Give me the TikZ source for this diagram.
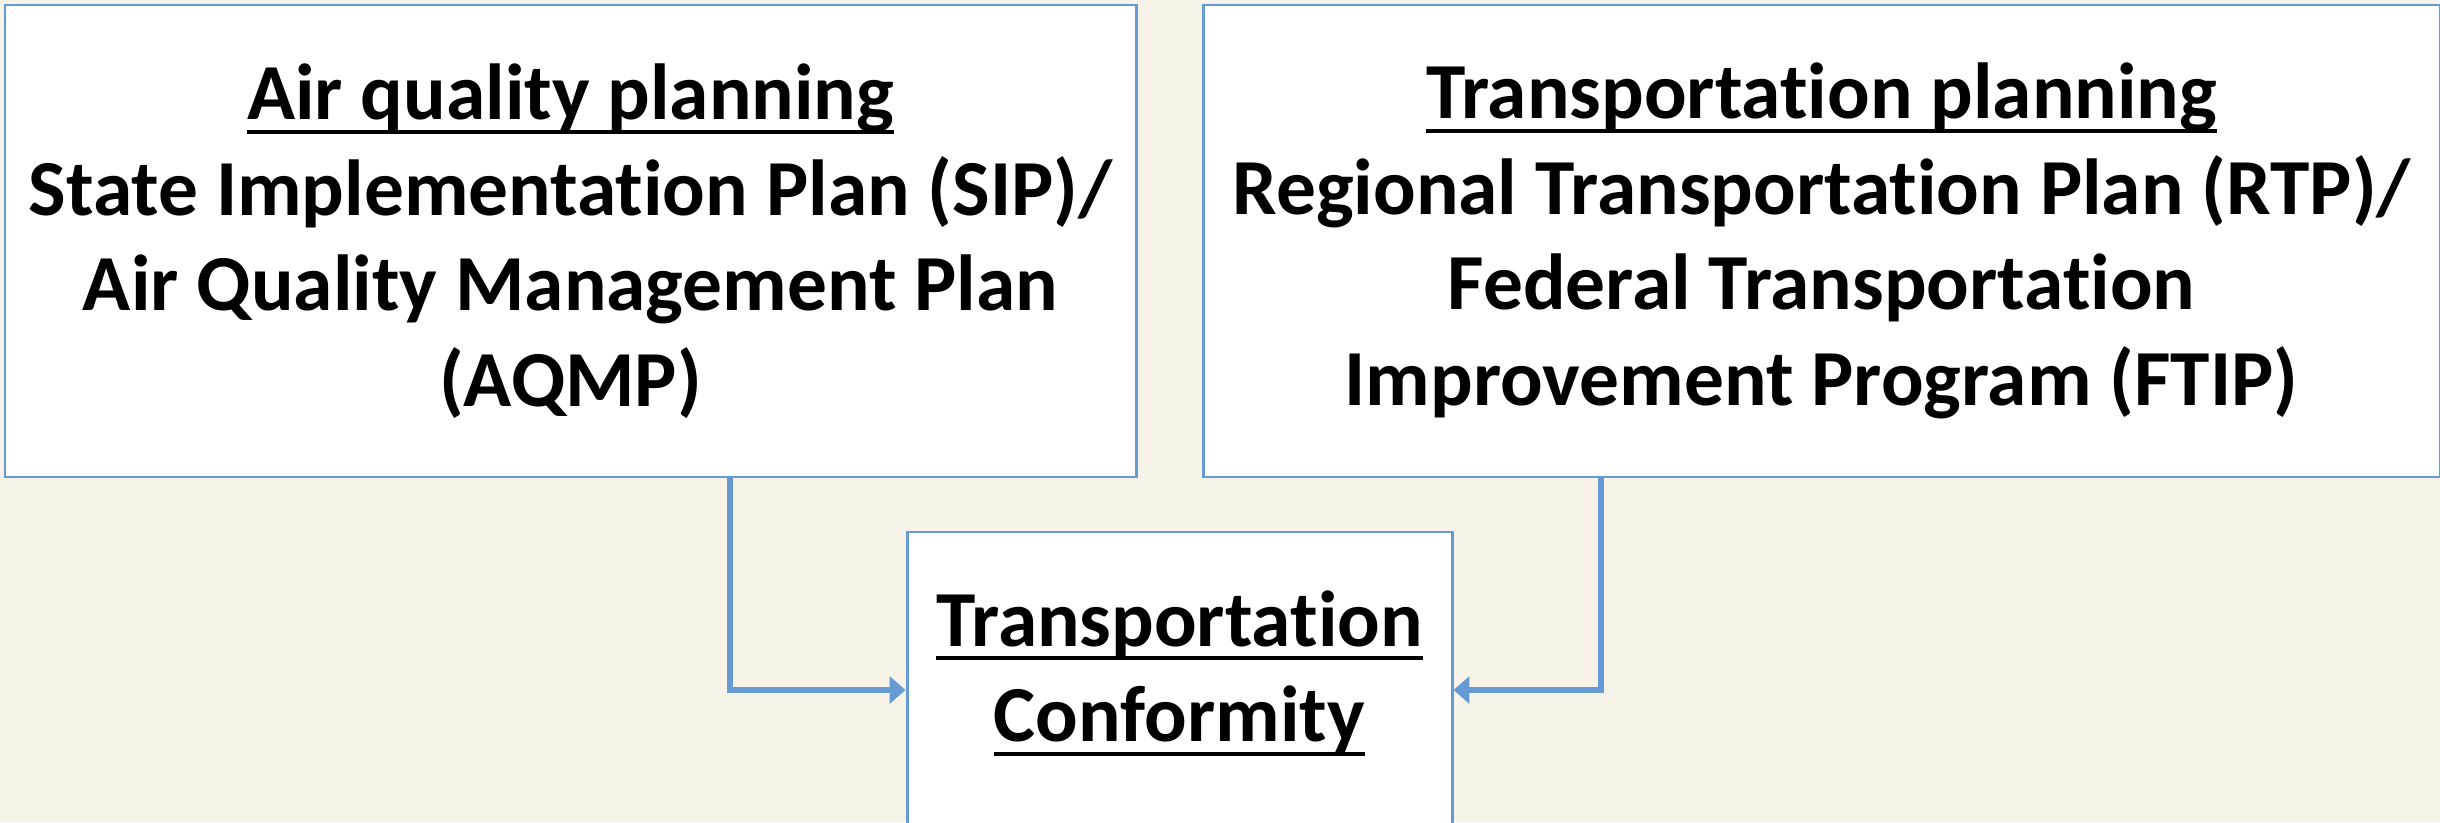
\documentclass[tikz,border=0pt]{standalone}
\usepackage{fontspec}
\setmainfont[Ligatures=NoCommon]{Carlito}
\usepackage{tikz}
\usetikzlibrary{arrows.meta,positioning}
\definecolor{planblue}{RGB}{101,155,210}
\definecolor{paper}{RGB}{247,243,233}
\newcommand{\ulin}[1]{\leavevmode\setbox0\hbox{#1}\rlap{\rule[-4pt]{\wd0}{1.1pt}}\box0}

\begin{document}
\begin{tikzpicture}[>={Triangle[length=4.5pt,width=7.6pt]}
	,line width=1.5pt
	,node distance=0.64cm]
  \tikzstyle{planbox}
  =[draw=planblue,fill=white,line width=0.85pt,inner sep=0pt
  ,align=center,font=\fontsize{22.6}{27.2}\selectfont\bfseries]
  \tikzstyle{plantext}
  =[inner sep=0pt,align=center,font=\fontsize{22.6}{27.2}\selectfont\bfseries]
  \tikzstyle{link}=[draw=planblue,->]

  % page
  \fill[paper] (0,0) rectangle (24.4,8.22);
  \useasboundingbox (0,0) rectangle (24.4,8.22);

  % the two planning boxes
  \node[planbox,minimum width=11.31cm,minimum height=4.72cm] (aqp) at (5.705,5.81)
    {\ulin{Air quality planning}\\
     State Implementation Plan (SIP)/\\
     Air Quality Management Plan\\
     (AQMP)};
  \node[planbox,minimum width=12.37cm,minimum height=4.72cm,right=of aqp] (tp)
    {\ulin{Transportation planning}\\
     Regional Transportation Plan (RTP)/\\
     Federal Transportation\\
     Improvement Program (FTIP)};

  % conformity box, runs off the bottom
  \node[planbox,minimum width=5.45cm,minimum height=3.16cm] (conf) at (11.795,1.32) {};
  \node[plantext] (conftext) at ([yshift=0.17cm]conf.center)
    {\ulin{Transportation}\\
     \ulin{Conformity}};

  % connectors
  \path [link] ([xshift=1.595cm]aqp.south) |- (conf.west);
  \path [link] ([xshift=-2.205cm]tp.south) |- (conf.east);
\end{tikzpicture}
\end{document}
